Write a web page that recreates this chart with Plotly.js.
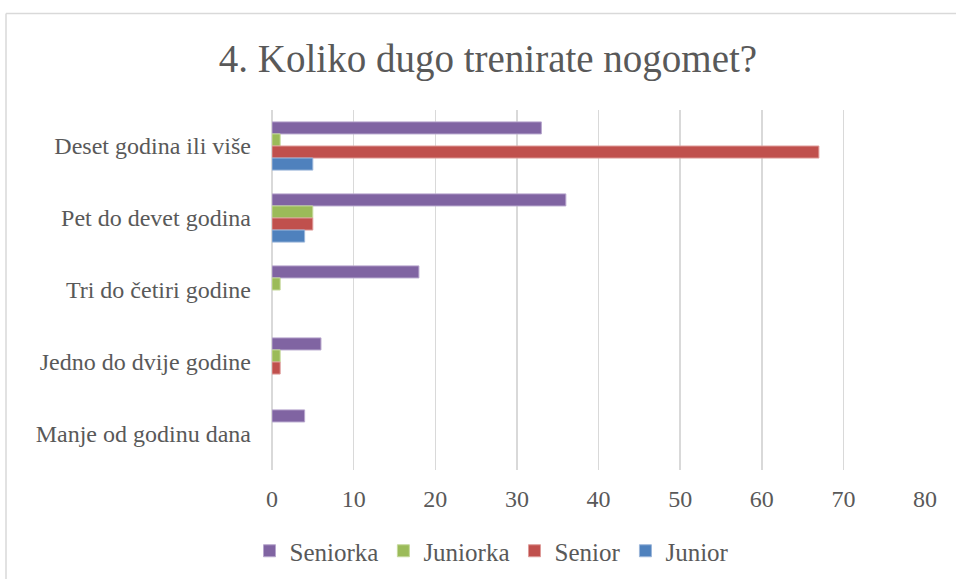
<!DOCTYPE html>
<html>
<head>
<meta charset="utf-8">
<script src="https://cdn.plot.ly/plotly-3.0.1.min.js"></script>
<style>
  html, body { margin: 0; padding: 0; background: #fff; }
  #chart { width: 956px; height: 579px; }
</style>
</head>
<body>
<div id="chart"></div>
<script>
const categories = ["Deset godina ili više", "Pet do devet godina", "Tri do četiri godine", "Jedno do dvije godine", "Manje od godinu dana"];
const seriesNames = ["Seniorka", "Juniorka", "Senior", "Junior"];
const seniorka = [33, 36, 18, 6, 4];
const juniorka = [1, 5, 1, 1, 0];
const senior = [67, 5, 0, 1, 0];
const junior = [5, 4, 0, 0, 0];
const xTicks = [0, 10, 20, 30, 40, 50, 60, 70, 80];

const colors = ["#8064A2", "#9BBB59", "#C0504D", "#4F81BD"];
const lineColors = ["#B7A6CD", "#C5D99C", "#DE9B99", "#9BB6DA"];
const values = [seniorka, juniorka, senior, junior];

const traces = values.map((v, i) => ({
  type: "bar",
  orientation: "h",
  name: seriesNames[i],
  x: v,
  y: categories,
  marker: { color: colors[i], line: { color: lineColors[i], width: v.map(d => d > 0 ? 1 : 0) } },
  hoverinfo: "x+name"
}));

const W = 956, H = 579;
const L = 272, R = 31, T = 110, B = 109;
const pw = W - L - R, ph = H - T - B;
const px = v => (v - L) / pw;
const py = v => 1 - (v - T) / ph;

const font = "Liberation Serif, DejaVu Serif, serif";
const layout = {
  width: W, height: H,
  margin: { l: L, r: R, t: T, b: B },
  paper_bgcolor: "#ffffff",
  plot_bgcolor: "#ffffff",
  font: { family: font, color: "#595959", size: 24 },
  title: {
    text: "4. Koliko dugo trenirate nogomet?",
    font: { family: font, size: 39, color: "#595959" },
    x: 488 / W, xanchor: "center", xref: "container",
    y: 1 - 58 / H, yanchor: "middle", yref: "container"
  },
  barmode: "group",
  bargap: 0.33,
  bargroupgap: 0,
  xaxis: {
    range: [0, 80],
    tickvals: xTicks,
    ticktext: xTicks.map(String),
    showgrid: true,
    gridcolor: "#D9D9D9",
    gridwidth: 1.5,
    zeroline: true,
    zerolinecolor: "#D9D9D9",
    zerolinewidth: 1.5,
    showline: false,
    ticks: "",
    ticklabelstandoff: 12,
    tickfont: { family: font, size: 24, color: "#595959" },
    fixedrange: true
  },
  yaxis: {
    type: "category",
    categoryorder: "array",
    categoryarray: categories,
    autorange: "reversed",
    showgrid: false,
    zeroline: false,
    showline: false,
    ticks: "",
    ticklabelstandoff: 20,
    tickfont: { family: font, size: 24, color: "#595959" },
    fixedrange: true
  },
  legend: {
    orientation: "h",
    xref: "container", yref: "container",
    x: 492 / W, xanchor: "center",
    y: 1 - 551 / H, yanchor: "middle",
    font: { family: font, size: 25, color: "#595959" },
    itemwidth: 30,
    traceorder: "normal"
  },
  shapes: [
    { type: "line", xref: "paper", yref: "paper", x0: px(6), x1: px(970), y0: py(13.5), y1: py(13.5), line: { color: "#D9D9D9", width: 1.5 } },
    { type: "line", xref: "paper", yref: "paper", x0: px(6), x1: px(6), y0: py(13.5), y1: py(600), line: { color: "#D9D9D9", width: 1.5 } }
  ],
  showlegend: true
};

Plotly.newPlot("chart", traces, layout, { displayModeBar: false, staticPlot: true });
</script>
</body>
</html>
